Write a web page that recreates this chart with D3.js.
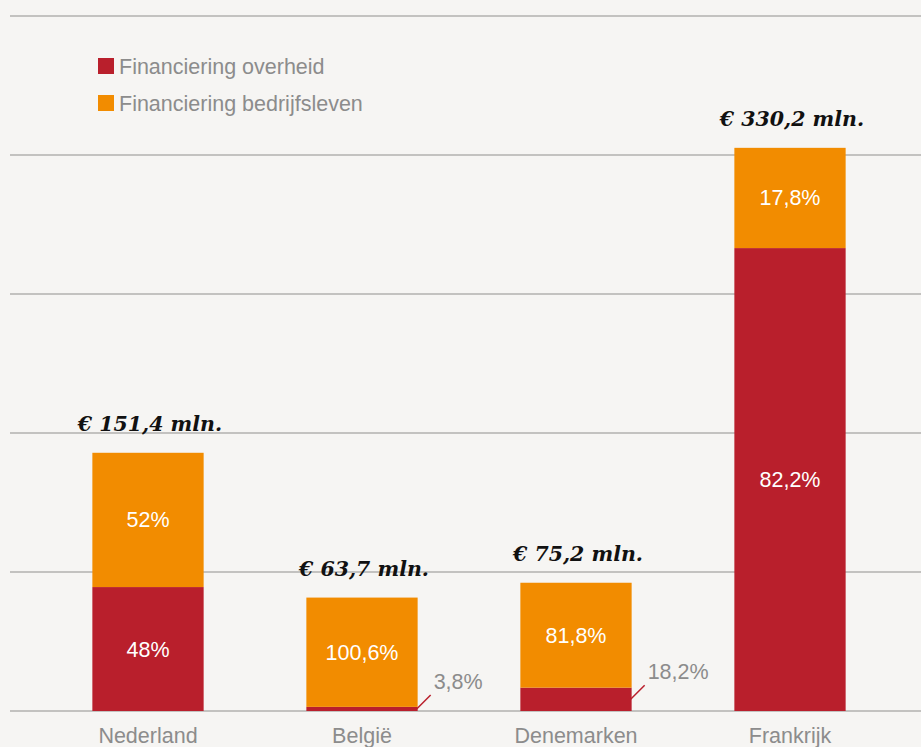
<!DOCTYPE html>
<html>
<head>
<meta charset="utf-8">
<script src="https://cdn.jsdelivr.net/npm/d3@7.9.0/dist/d3.min.js"></script>
<style>
  html, body { margin: 0; padding: 0; background: #f6f5f3; }
  svg { display: block; }
</style>
</head>
<body>
<svg id="chart" width="921" height="747"></svg>
<script>
// data
const countries = ['Nederland', 'België', 'Denemarken', 'Frankrijk'];
const totals = [151.4, 63.7, 75.2, 330.2];          // mln euro
const totalLabels = ['€ 151,4 mln.', '€ 63,7 mln.', '€ 75,2 mln.', '€ 330,2 mln.'];
const overheid = [48, 3.8, 18.2, 82.2];             // % of total
const bedrijfsleven = [52, 100.6, 81.8, 17.8];      // % of total
const overheidLabels = ['48%', '3,8%', '18,2%', '82,2%'];
const bedrijfLabels = ['52%', '100,6%', '81,8%', '17,8%'];
const seriesNames = ['Financiering overheid', 'Financiering bedrijfsleven'];

const colors = ['#b91f2c', '#f28c00'];
const sans = 'Liberation Sans, Arial, sans-serif';
const gray = '#8c8c8c';

const width = 921, height = 747;
const svg = d3.select('#chart');

// scales
let x = d3.scaleBand().domain(countries).range([41, 897]).paddingInner(0.48).paddingOuter(0.24);
let y = d3.scaleLinear().domain([0, 407.5]).range([711, 16]);

// gridlines (5 steps)
let gridVals = d3.range(0, 6).map((i) => i * 407.5 / 5);
svg.append('g')
  .selectAll('line')
  .data(gridVals)
  .join('line')
  .attr('x1', 10)
  .attr('x2', width)
  .attr('y1', (d) => y(d))
  .attr('y2', (d) => y(d))
  .attr('stroke', '#c3c2c0')
  .attr('stroke-width', 2);

// stacked segments: red at bottom, orange on top
let rows = countries.map((c, i) => {
  let red = totals[i] * overheid[i] / 100;
  let orange = totals[i] * bedrijfsleven[i] / 100;
  return { country: c, i, red, orange };
});

let bars = svg.append('g');
rows.forEach((d) => {
  let x0 = x(d.country);
  let bw = x.bandwidth();
  let cx = x0 + bw / 2;
  let redTop = y(d.red);
  let top = y(d.red + d.orange);

  bars.append('rect')
    .attr('x', x0).attr('width', bw)
    .attr('y', redTop).attr('height', y(0) - redTop)
    .attr('fill', colors[0]);

  bars.append('rect')
    .attr('x', x0).attr('width', bw)
    .attr('y', top).attr('height', redTop - top)
    .attr('fill', colors[1]);

  // orange label inside
  bars.append('text')
    .attr('x', cx).attr('y', (top + redTop) / 2)
    .attr('dy', '0.35em')
    .attr('text-anchor', 'middle')
    .attr('fill', '#fff')
    .attr('font-family', sans)
    .attr('font-size', 21.5)
    .text(bedrijfLabels[d.i]);

  // red label: inside if there's room, else outside with a leader
  if (y(0) - redTop > 40) {
    bars.append('text')
      .attr('x', cx).attr('y', (redTop + y(0)) / 2)
      .attr('dy', '0.35em')
      .attr('text-anchor', 'middle')
      .attr('fill', '#fff')
      .attr('font-family', sans)
      .attr('font-size', 21.5)
      .text(overheidLabels[d.i]);
  } else {
    let lx = x0 + bw, ly = (redTop + y(0)) / 2;
    bars.append('line')
      .attr('x1', lx - 1).attr('y1', ly)
      .attr('x2', lx + 13).attr('y2', ly - 14)
      .attr('stroke', colors[0]).attr('stroke-width', 1.5);
    bars.append('text')
      .attr('x', lx + 16).attr('y', ly - 20)
      .attr('fill', gray)
      .attr('font-family', sans)
      .attr('font-size', 21.5)
      .text(overheidLabels[d.i]);
  }

  // total above the bar
  bars.append('text')
    .attr('x', cx + 2).attr('y', top - 22)
    .attr('text-anchor', 'middle')
    .attr('fill', '#111')
    .attr('font-family', 'DejaVu Serif, Georgia, serif')
    .attr('font-style', 'italic')
    .attr('font-weight', 'bold')
    .attr('font-size', 20.5)
    .text(totalLabels[d.i]);
});

// category labels
svg.append('g')
  .selectAll('text')
  .data(countries)
  .join('text')
  .attr('x', (d) => x(d) + x.bandwidth() / 2)
  .attr('y', 743)
  .attr('text-anchor', 'middle')
  .attr('fill', gray)
  .attr('font-family', sans)
  .attr('font-size', 21.5)
  .text((d) => d);

// legend
let legend = svg.append('g').attr('transform', 'translate(98,58)');
seriesNames.forEach((name, i) => {
  legend.append('rect')
    .attr('x', 0).attr('y', i * 37)
    .attr('width', 16).attr('height', 16)
    .attr('fill', colors[i]);
  legend.append('text')
    .attr('x', 21).attr('y', i * 37 + 8)
    .attr('dy', '0.35em')
    .attr('fill', gray)
    .attr('font-family', sans)
    .attr('font-size', 21.5)
    .text(name);
});
</script>
</body>
</html>
